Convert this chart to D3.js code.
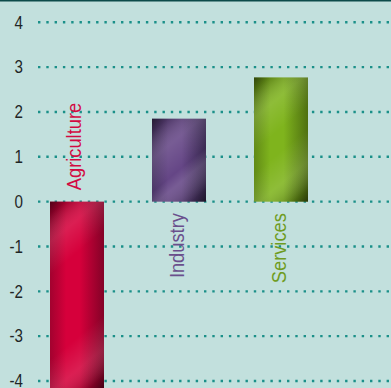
<!DOCTYPE html>
<html>
<head>
<meta charset="utf-8">
<script src="https://cdn.jsdelivr.net/npm/d3@7/dist/d3.min.js"></script>
<style>
  html, body { margin: 0; padding: 0; background: #c2e0dd; }
  svg { display: block; }
</style>
</head>
<body>
<svg id="chart" width="391" height="388"></svg>
<script>
// Sector contributions
const categories = ["Agriculture", "Industry", "Services"];
const values = [-4.4, 1.85, 2.77];
const tickValues = [4, 3, 2, 1, 0, -1, -2, -3, -4];
const tickLabels = ["4", "3", "2", "1", "0", "-1", "-2", "-3", "-4"];

// Per-bar colour pairs (shadow, highlight) and label colours
const barDark = ["#6e0322", "#2f2344", "#435f0e"];
const barLight = ["#d6003b", "#654686", "#7fb41d"];
const labelColors = ["#d20a42", "#6a4f8c", "#6f9c22"];

const W = 391, H = 388;
const svg = d3.select("#chart");

svg.append("rect").attr("width", W).attr("height", H).attr("fill", "#c2e0dd");

const x = d3.scaleBand()
  .domain(categories)
  .range([24.5, 333.5])
  .paddingInner(0.4706)
  .paddingOuter(0.25);

const y = d3.scaleLinear().domain([-4, 4]).range([381, 22.3]);

// Dotted grid
svg.append("g").selectAll("line")
  .data(tickValues)
  .join("line")
  .attr("x1", 38).attr("x2", W)
  .attr("y1", d => y(d)).attr("y2", d => y(d))
  .attr("stroke", "#1b9089")
  .attr("stroke-width", 2.4)
  .attr("stroke-dasharray", "2.4,5.9");

// Tick labels
svg.append("g").selectAll("text")
  .data(tickValues)
  .join("text")
  .attr("transform", d => `translate(23,${y(d)}) scale(0.92,1.06)`)
  .attr("dy", "0.36em")
  .attr("text-anchor", "end")
  .attr("font-family", "'Liberation Sans', Arial, sans-serif")
  .attr("font-size", 16.5)
  .attr("fill", "#1f2626")
  .text((d, i) => tickLabels[i]);

// Metallic gradients
const defs = svg.append("defs");
const zero = y(0);

categories.forEach((c, i) => {
  const x0 = x(c), w = x.bandwidth();
  const yTop = Math.min(y(values[i]), zero);
  const yBot = Math.min(Math.max(y(values[i]), zero), H);
  const h = yBot - yTop;

  // horizontal shading: dark edges, bright middle
  const hg = defs.append("linearGradient")
    .attr("id", "h" + i)
    .attr("x1", 0).attr("y1", 0).attr("x2", 1).attr("y2", 0);
  const mix = d3.interpolateRgb(barDark[i], barLight[i]);
  [[0, mix(0.5)], [0.3, barLight[i]], [0.55, barLight[i]], [1, mix(0.2)]]
    .forEach(([o, col]) => hg.append("stop").attr("offset", o).attr("stop-color", col));

  // diagonal sheen: dark corners and soft bright streaks near the top-right and bottom-left corners
  const ux = 0.64, uy = 0.77;
  const L = ux * w + uy * h;
  const s1 = (ux * w) / L, s2 = (uy * h) / L;
  const px = 10 / L;
  const dg = defs.append("linearGradient")
    .attr("id", "d" + i)
    .attr("gradientUnits", "userSpaceOnUse")
    .attr("x1", x0).attr("y1", yTop)
    .attr("x2", x0 + ux * L).attr("y2", yTop + uy * L);
  const stops = [
    [0, "#000", 0.5],
    [Math.max(0, s1 - 2.5 * px), "#000", 0.26],
    [s1 - 0.3 * px, "#fff", 0.12],
    [s1 + 2.2 * px, "#fff", 0],
    [s2 - 2.2 * px, "#fff", 0],
    [s2 + 0.3 * px, "#fff", 0.12],
    [Math.min(1, s2 + 2.5 * px), "#000", 0.26],
    [1, "#000", 0.5]
  ];
  stops.forEach(([o, col, op]) => dg.append("stop")
    .attr("offset", Math.max(0, Math.min(1, o)))
    .attr("stop-color", col)
    .attr("stop-opacity", op));
});

// Bars
const bars = svg.append("g");
categories.forEach((c, i) => {
  const yTop = Math.min(y(values[i]), zero);
  const yBot = Math.max(y(values[i]), zero);
  const attrs = sel => sel
    .attr("x", x(c)).attr("y", yTop)
    .attr("width", x.bandwidth()).attr("height", yBot - yTop);
  bars.append("rect").call(attrs).attr("fill", `url(#h${i})`);
  bars.append("rect").call(attrs).attr("fill", `url(#d${i})`);
});

// Category labels, set on the opposite side of the zero line from each bar
svg.append("g").selectAll("text")
  .data(categories)
  .join("text")
  .attr("transform", (d, i) => {
    const cx = x(d) + x.bandwidth() / 2 + 4.5;
    const ty = values[i] < 0 ? zero - 11.5 : zero + 11.5;
    return `translate(${cx},${ty}) rotate(-90) scale(0.87,1)`;
  })
  .attr("text-anchor", (d, i) => values[i] < 0 ? "start" : "end")
  .attr("font-family", "'Liberation Sans', Arial, sans-serif")
  .attr("font-size", 21)
  .attr("fill", (d, i) => labelColors[i])
  .text(d => d);

// Dark rule along the top edge
svg.append("rect").attr("x", 0).attr("y", 0).attr("width", W).attr("height", 1.5).attr("fill", "#0c4b4a");
</script>
</body>
</html>
